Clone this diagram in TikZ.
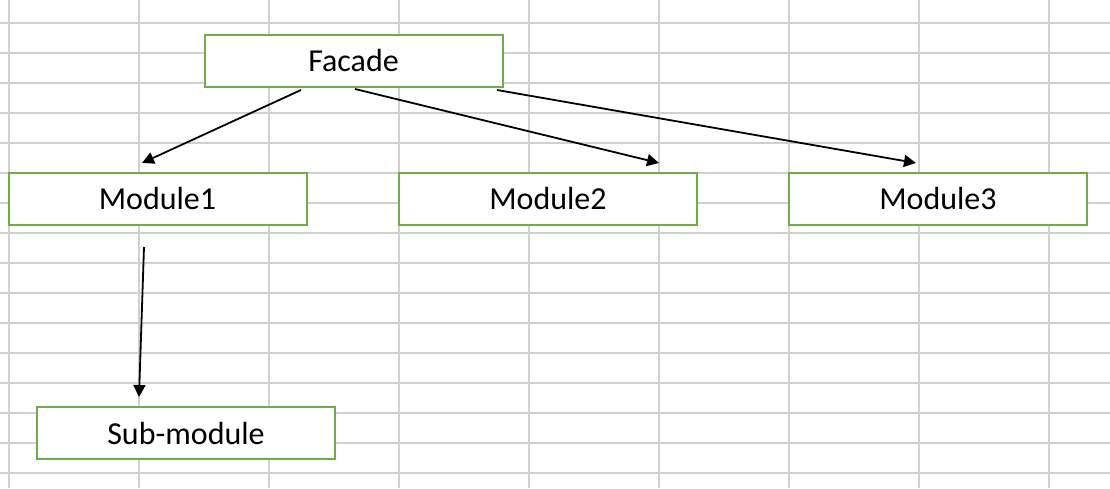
\documentclass[tikz,border=0pt]{standalone}
\usepackage{fontspec}
\setmainfont{Carlito}
\usetikzlibrary{arrows.meta,calc}
\definecolor{cellgrid}{RGB}{208,208,208}
\definecolor{boxgreen}{RGB}{112,173,71}
\tikzset{
modbox/.style={
  draw=boxgreen,line width=1pt,fill=white,inner sep=0pt,
  minimum width=149pt,minimum height=26pt,
  font=\fontsize{16}{19}\selectfont},
arr/.style={-{Triangle[length=6pt,width=6pt]},line width=0.9pt}}

\begin{document}
\begin{tikzpicture}[x=0.5pt,y=-0.5pt]
\useasboundingbox[fill=white] (0,0) rectangle (1110,488);
% spreadsheet cells
\foreach \gx in {0,...,8}
  \draw[cellgrid,line width=1pt] (8.5+130*\gx,0) -- (8.5+130*\gx,488);
\foreach \gy in {0,...,15}
  \draw[cellgrid,line width=1pt] (0,23+30*\gy) -- (1110,23+30*\gy);
% boxes
\node[modbox] (facade) at (353.5,61) {Facade};
\node[modbox] (mod1) at (157.5,199) {Module1};
\node[modbox] (mod2) at (548,199) {Module2};
\node[modbox] (mod3) at (938,199) {Module3};
\node[modbox] (sub) at (186,433) {Sub-module};
% arrows
\draw[arr] ($(facade.south)+(-52.5,2)$) -- ($(mod1.north)+(-15.5,-9)$);
\draw[arr] ($(facade.south)+(1.5,1)$) -- ($(mod2.north)+(111,-9)$);
\draw[arr] ($(facade.south)+(143.5,2)$) -- ($(mod3.north)+(-22,-9)$);
\draw[arr] ($(mod1.south)+(-13.5,21)$) -- ($(sub.north)+(-47,-9)$);
\end{tikzpicture}
\end{document}
